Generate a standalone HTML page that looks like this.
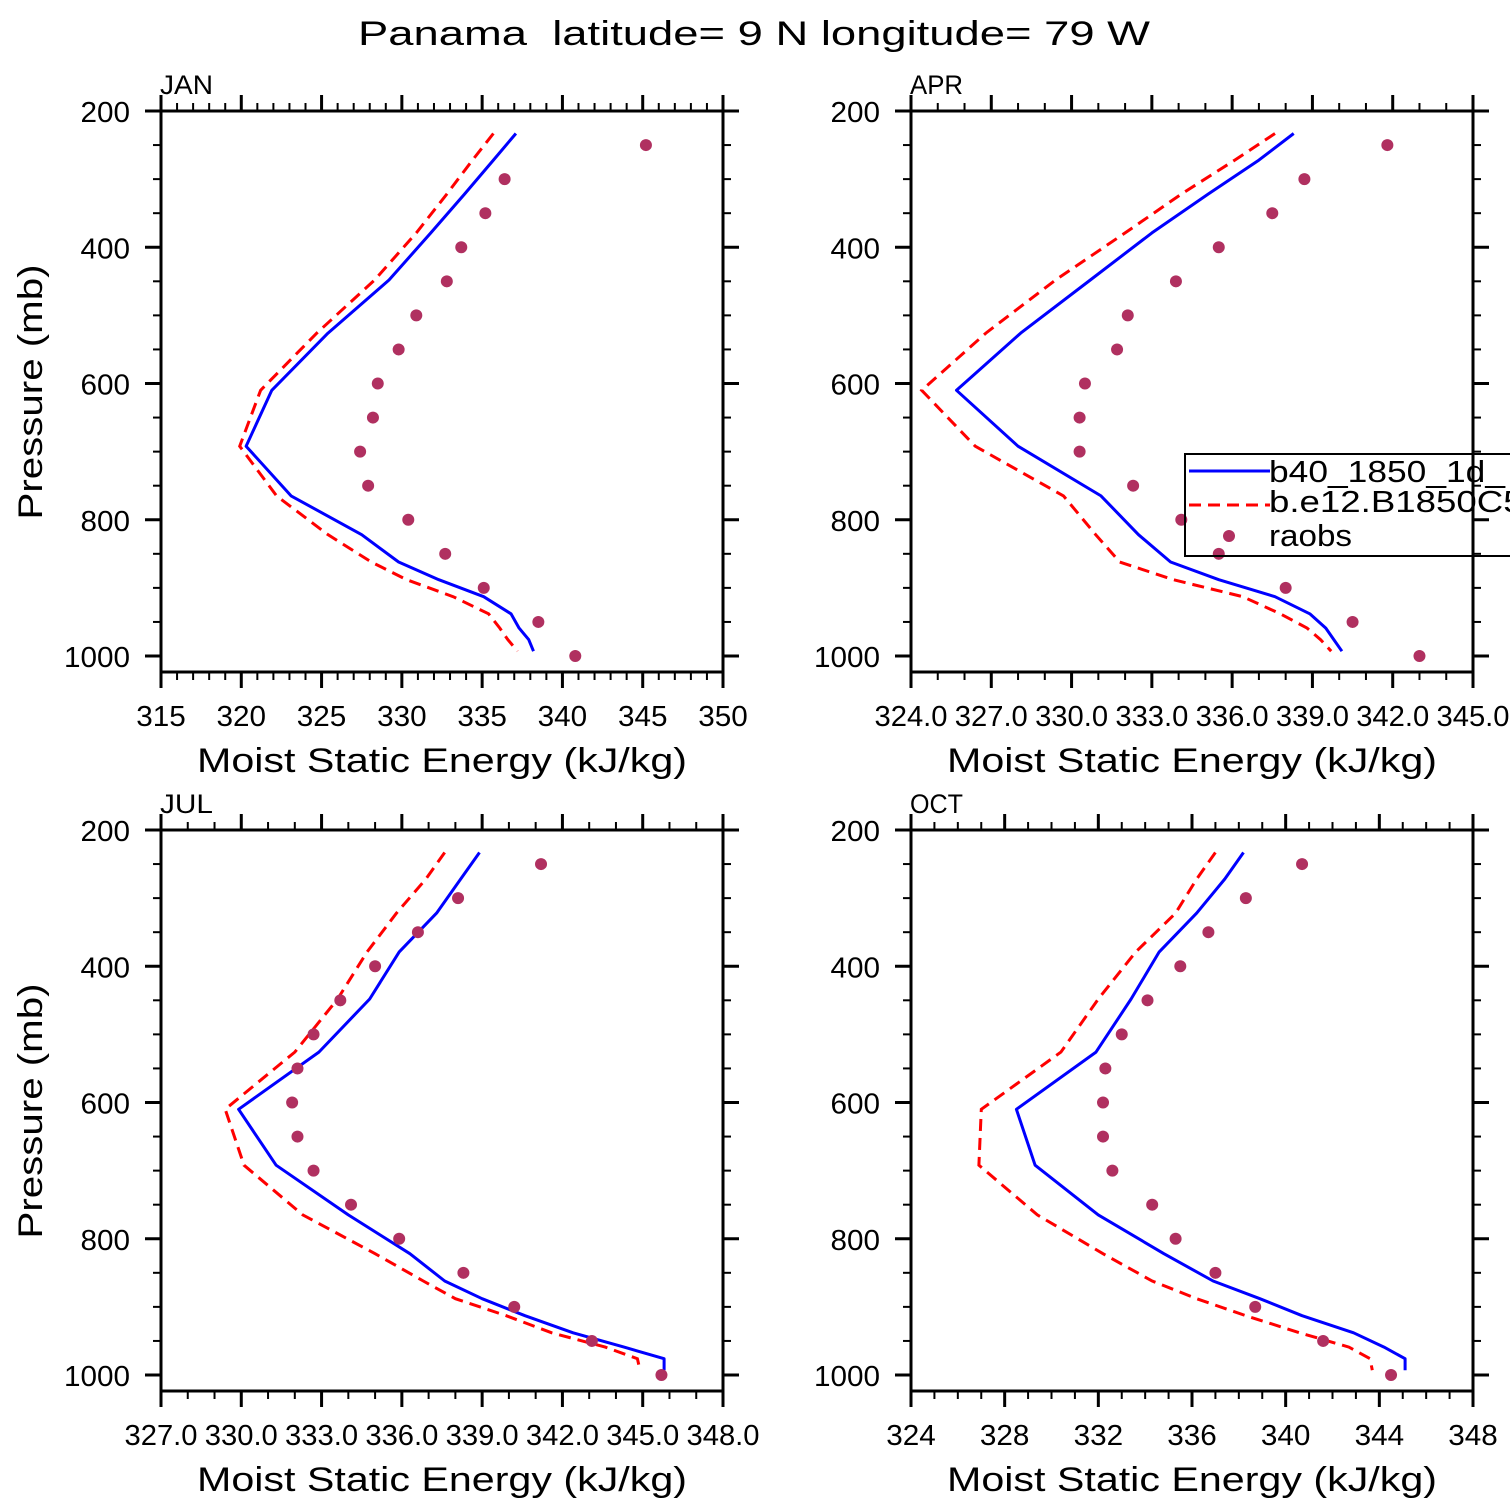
<!DOCTYPE html>
<html><head><meta charset="utf-8"><style>
html,body{margin:0;padding:0;background:#fff;}
svg{display:block;font-family:"Liberation Sans",sans-serif;}
text{fill:#000;}
</style></head><body>
<svg id="chart" width="1510" height="1510" viewBox="0 0 1510 1510" xmlns="http://www.w3.org/2000/svg">
<text x="358" y="45" font-size="34" textLength="792" lengthAdjust="spacingAndGlyphs" xml:space="preserve">Panama  latitude= 9 N longitude= 79 W</text>
<g id="panels"></g>
</svg>
<script>
const levels = [233,272,322,379,448,526,610,692,765,822,862,888,913,938,959,976,993];
const obsLevels = [250,300,350,400,450,500,550,600,650,700,750,800,850,900,950,1000];
const janBlue = [337.1,335.7,333.9,331.8,329.2,325.4,321.9,320.3,323.1,327.5,329.8,332.3,335.1,336.8,337.3,337.9,338.2];
const janRed  = [335.7,334.4,332.8,330.9,328.3,324.7,321.2,319.9,322.2,325.4,328.1,330.3,333.2,335.4,336.1,336.6,337.2];
const janObs  = [345.2,336.4,335.2,333.7,332.8,330.9,329.8,328.5,328.2,327.4,327.9,330.4,332.7,335.1,338.5,340.8];
const aprBlue = [338.3,337.0,335.1,333.0,330.7,328.1,325.7,328.0,331.1,332.5,333.7,335.5,337.6,338.9,339.5,339.8,340.1];
const aprRed  = [337.6,336.1,334.1,332.0,329.4,326.8,324.4,326.4,329.7,330.9,331.8,333.8,336.4,337.8,338.8,339.3,339.7];
const aprObs  = [341.8,338.7,337.5,335.5,333.9,332.1,331.7,330.5,330.3,330.3,332.3,334.1,335.5,338.0,340.5,343.0];
const julBlue = [338.9,338.2,337.3,335.9,334.8,332.9,329.9,331.3,334.0,336.3,337.6,339.0,340.6,342.4,344.3,345.8,345.8];
const julRed  = [337.6,336.9,335.8,334.7,333.6,332.0,329.4,330.1,332.3,335.0,336.8,338.0,339.9,341.6,343.6,344.8,344.9];
const julObs  = [341.2,338.1,336.6,335.0,333.7,332.7,332.1,331.9,332.1,332.7,334.1,335.9,338.3,340.2,343.1,345.7];
const octBlue = [338.2,337.4,336.2,334.6,333.4,331.9,328.5,329.3,332.0,334.8,336.9,338.9,340.7,342.9,344.2,345.1,345.1];
const octRed  = [337.0,336.2,335.3,333.6,332.0,330.4,327.0,326.9,329.4,332.2,334.3,336.2,338.3,340.6,342.7,343.6,343.7];
const octObs  = [340.7,338.3,336.7,335.5,334.1,333.0,332.3,332.2,332.2,332.6,334.3,335.3,337.0,338.7,341.6,344.5];
const janTicks = [315,320,325,330,335,340,345,350];
const aprTicks = [324,327,330,333,336,339,342,345];
const julTicks = [327,330,333,336,339,342,345,348];
const octTicks = [324,328,332,336,340,344,348];
const aprTickLabels = ["324.0","327.0","330.0","333.0","336.0","339.0","342.0","345.0"];
const julTickLabels = ["327.0","330.0","333.0","336.0","339.0","342.0","345.0","348.0"];
const yTicks = [200,400,600,800,1000];

const NS="http://www.w3.org/2000/svg";
const root=document.getElementById('panels');
function mk(tag,attrs,parent,txt){const e=document.createElementNS(NS,tag);for(const k in attrs)e.setAttribute(k,attrs[k]);if(txt!==undefined)e.textContent=txt;parent.appendChild(e);return e;}
function tlen(s){let w=0;for(const c of s)w+=(c==='.')?7:16.5;return w;}

function panel(o){
  const L=o.x0,R=o.x0+562,T=o.y0,B=o.y0+561;
  const xs=v=>L+(v-o.min)/(o.max-o.min)*(R-L);
  const ys=p=>T+(p-200)*0.68125;
  const g=mk('g',{},root);
  
  
  const ax=mk('rect',{x:L,y:T,width:R-L,height:B-T,fill:'none',stroke:'#000','stroke-width':3},g);
  
  
  const t=mk('text',{x:L-1,y:T-17,'font-size':27,textLength:53,lengthAdjust:'spacingAndGlyphs'},g,o.title);
  
  
  const step=o.ticks[1]-o.ticks[0];
  for(let v=o.min;v<=o.max+1e-6;v+=1){
    const major=Math.abs(((v-o.min)/step)-Math.round((v-o.min)/step))<1e-6;
    const len=major?16:8,x=xs(v);
    mk('line',{x1:x,x2:x,y1:B,y2:B+len,stroke:'#000','stroke-width':major?3:2},g);
    mk('line',{x1:x,x2:x,y1:T,y2:T-len,stroke:'#000','stroke-width':major?3:2},g);
  }
  o.ticks.forEach((v,i)=>{
    const s=o.labels?o.labels[i]:String(v);
    const tl=mk('text',{x:xs(v),y:B+54,'font-size':29,'text-anchor':'middle',textLength:tlen(s),lengthAdjust:'spacingAndGlyphs'},g,s);
    
    
  });
  for(let p=200;p<=1000;p+=50){
    const major=p%200===0,len=major?16:8,y=ys(p);
    mk('line',{x1:L,x2:L-len,y1:y,y2:y,stroke:'#000','stroke-width':major?3:2},g);
    mk('line',{x1:R,x2:R+len,y1:y,y2:y,stroke:'#000','stroke-width':major?3:2},g);
  }
  yTicks.forEach(p=>{
    const s=String(p);
    const tl=mk('text',{x:L-31,y:ys(p)+11,'font-size':29,'text-anchor':'end',textLength:tlen(s),lengthAdjust:'spacingAndGlyphs'},g,s);
    
    
  });
  const xt=mk('text',{x:(L+R)/2,y:B+100,'font-size':34,'text-anchor':'middle',textLength:490,lengthAdjust:'spacingAndGlyphs'},g,'Moist Static Energy (kJ/kg)');
  
  
  if(o.ytitle){
    const yt=mk('text',{x:0,y:0,'font-size':34,'text-anchor':'middle',textLength:255,lengthAdjust:'spacingAndGlyphs',transform:`translate(42 ${T+281}) rotate(-90)`},g,'Pressure (mb)');
    
    
  }
  const cp=mk('clipPath',{id:'clip-'+o.key},g);
  mk('rect',{x:L,y:T,width:R-L,height:B-T},cp);
  const pts=a=>a.map((v,i)=>xs(v).toFixed(1)+','+ys(levels[i]).toFixed(1)).join(' ');
  const blue=mk('polyline',{points:pts(o.blue),fill:'none',stroke:'#0000ff','stroke-width':3,'stroke-linejoin':'round','clip-path':`url(#clip-${o.key})`},g);
  
  
  const red=mk('polyline',{points:pts(o.red),fill:'none',stroke:'#ff0000','stroke-width':3,'stroke-dasharray':'12 7','clip-path':`url(#clip-${o.key})`},g);
  
  
  o.obs.forEach((v,i)=>{
    const c=mk('circle',{cx:xs(v),cy:ys(obsLevels[i]),r:6,fill:'#b03060'},g);
    
    
  });
}
panel({key:'jan',title:'JAN',x0:161,y0:111,min:315,max:350,ticks:janTicks,blue:janBlue,red:janRed,obs:janObs,ytitle:true});
panel({key:'apr',title:'APR',x0:911,y0:111,min:324,max:345,ticks:aprTicks,labels:aprTickLabels,blue:aprBlue,red:aprRed,obs:aprObs,ytitle:false});
panel({key:'jul',title:'JUL',x0:161,y0:830,min:327,max:348,ticks:julTicks,labels:julTickLabels,blue:julBlue,red:julRed,obs:julObs,ytitle:true});
panel({key:'oct',title:'OCT',x0:911,y0:830,min:324,max:348,ticks:octTicks,blue:octBlue,red:octRed,obs:octObs,ytitle:false});

const lg=mk('g',{},root);


mk('rect',{x:1185,y:454,width:340,height:102,fill:'none',stroke:'#000','stroke-width':2},lg);
const l1=mk('line',{x1:1189,x2:1270,y1:471,y2:471,stroke:'#0000ff','stroke-width':3},lg);


const l2=mk('line',{x1:1189,x2:1270,y1:505,y2:505,stroke:'#ff0000','stroke-width':3,'stroke-dasharray':'12 7'},lg);


const l3=mk('circle',{cx:1229,cy:536,r:6,fill:'#b03060'},lg);


const t1=mk('text',{x:1269,y:482,'font-size':31,textLength:236,lengthAdjust:'spacingAndGlyphs'},lg,'b40_1850_1d_');


const t2=mk('text',{x:1269,y:512,'font-size':31,textLength:275,lengthAdjust:'spacingAndGlyphs'},lg,'b.e12.B1850C5e');


const t3=mk('text',{x:1269,y:546,'font-size':31,textLength:83,lengthAdjust:'spacingAndGlyphs'},lg,'raobs');


</script>
</body></html>
